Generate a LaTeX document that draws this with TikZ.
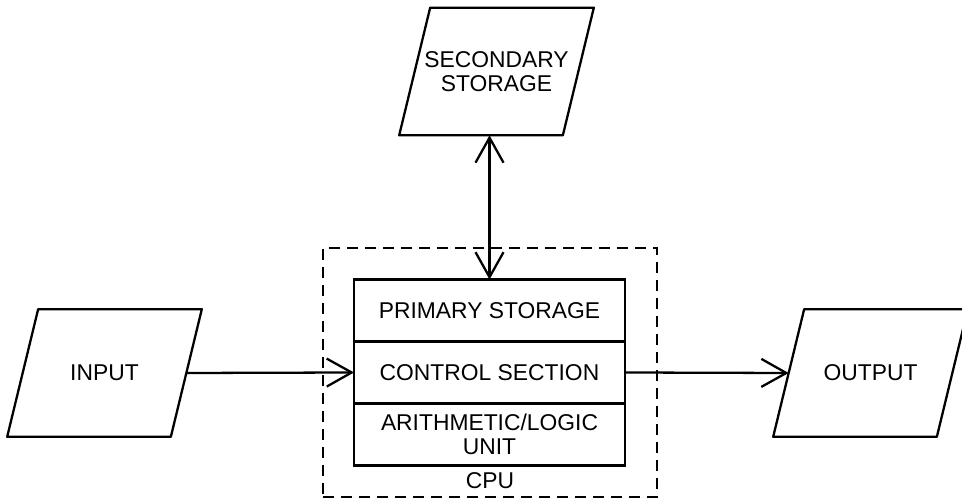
\documentclass[tikz,border=0pt]{standalone}
\usepackage{fontspec}
\setmainfont{Liberation Sans}
\usetikzlibrary{arrows.meta,positioning}
\tikzset{
  iobox/.style={
    shape = rectangle,
    minimum width = 3.26cm,
    minimum height = 2.54cm,
    inner sep = 0pt,
    align = center,
    append after command = {
      \pgfextra{\draw[line width = 1.3pt, line join = round]
        ([xshift=-0.31cm]\tikzlastnode.south west) --
        ([xshift=0.31cm]\tikzlastnode.north west) --
        ([xshift=0.31cm]\tikzlastnode.north east) --
        ([xshift=-0.31cm]\tikzlastnode.south east) -- cycle;}
    }
  },
  cpupart/.style={
    shape = rectangle,
    minimum width = 5.42cm,
    minimum height = 1.24cm,
    inner sep = 0pt,
    outer sep = 0pt,
    align = center,
    line width = 1.3pt,
    draw
  },
}
\tikzset{
  cpuframe/.style={
    shape = rectangle,
    minimum width = 6.68cm,
    minimum height = 4.98cm,
    draw,
    line width = 1pt,
    dash pattern = on 0.22cm off 0.14cm
  },
  flow/.style={
    line width = 1.3pt,
    >={Straight Barb[length=0.5cm,width=0.56cm]}
  },
  every picture/.style = {
    font=\fontsize{13}{13.5}\selectfont
  },
}

\begin{document}
\begin{tikzpicture}[x=0.02cm,y=-0.02cm]
\useasboundingbox (0,0) rectangle (962,499);
      \node[cpuframe] (cpu) at (490,372.5) {};
      \node[anchor=south] (cpulbl) at ([yshift=0.06cm]cpu.south) {CPU};
      \node[cpupart] (prim) at (489.5,310.5) {PRIMARY STORAGE};
      \node[cpupart, below=0pt of prim] (ctrl) {CONTROL SECTION};
      \node[cpupart, below=0pt of ctrl] (alu) {ARITHMETIC/LOGIC\\UNIT};
      \node[iobox] (sec) at (496.5,71.5) {SECONDARY\\STORAGE};
      \node[iobox] (in) at (104.5,373) {INPUT};
      \node[iobox] (out) at (870.5,373) {OUTPUT};
\draw[flow,<->] (prim.north) -- (prim.north |- sec.south);
\draw[flow,->] (in.east) -- (ctrl.west);
\draw[flow,->] (ctrl.east) -- (out.west);
\end{tikzpicture}
\end{document}
